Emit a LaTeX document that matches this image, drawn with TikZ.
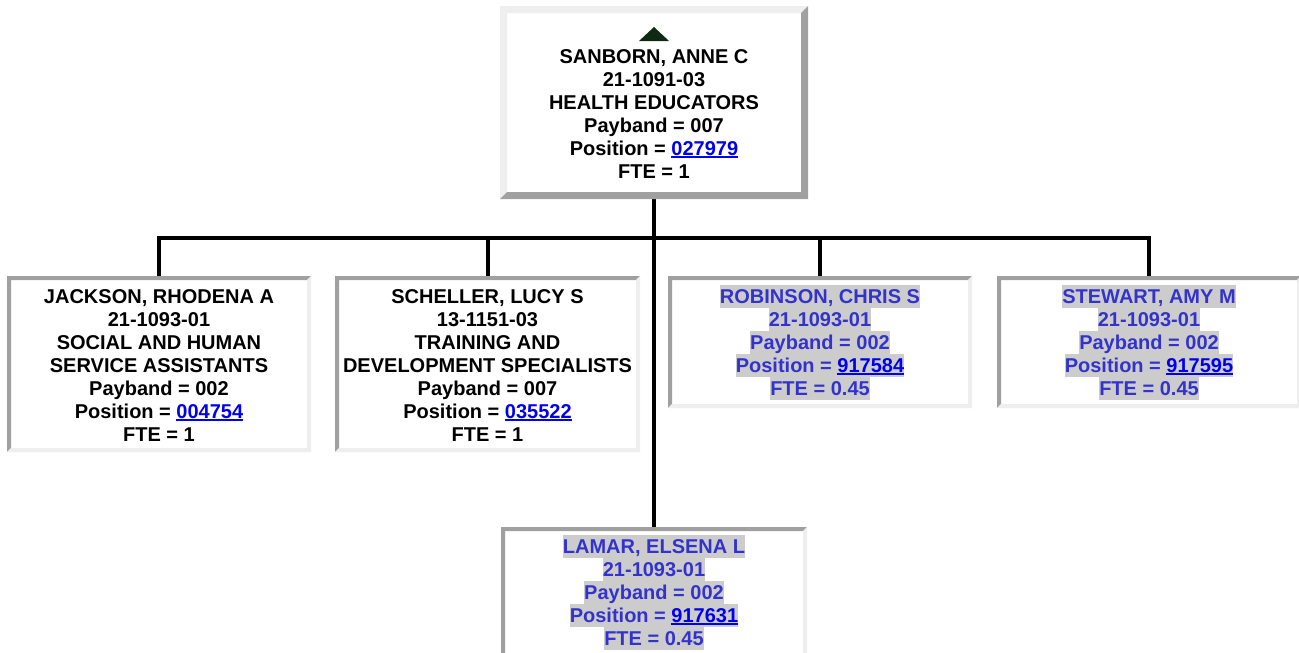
\documentclass[tikz,border=0pt]{standalone}
\usepackage{fontspec}
\setmainfont{Liberation Sans}
\definecolor{lightb}{HTML}{EEEEEE}
\definecolor{darkb}{HTML}{A0A0A0}
\definecolor{hlgray}{HTML}{CCCCCC}
\definecolor{hltext}{HTML}{3333CC}
\definecolor{linkblue}{HTML}{0000EE}
\definecolor{tricol}{HTML}{0E2A12}
\newcommand\mystrut{\rule[-4.5pt]{0pt}{23pt}}
\newcommand\rowp[1]{\mystrut#1}
\newcommand\rowh[1]{{\setlength{\fboxsep}{0pt}\colorbox{hlgray}{\mystrut#1}}}
\newcommand\lnk[1]{{\color{linkblue}\setbox0\hbox{#1}\rlap{\rule[-3pt]{\wd0}{2pt}}\box0}}
\newcommand\bevel[4]{%
  \fill[#3] (#1.south west) -- (#1.north west) -- (#1.north east)
    -- ([xshift=-#2,yshift=-#2]#1.north east) -- ([xshift=#2,yshift=-#2]#1.north west)
    -- ([xshift=#2,yshift=#2]#1.south west) -- cycle;
  \fill[#4] (#1.north east) -- (#1.south east) -- (#1.south west)
    -- ([xshift=#2,yshift=#2]#1.south west) -- ([xshift=-#2,yshift=#2]#1.south east)
    -- ([xshift=-#2,yshift=-#2]#1.north east) -- cycle;}
\tikzset{
  box/.style={rectangle, fill=white, draw=none, inner sep=0pt, outer sep=0pt},
  txt/.style={font=\fontsize{20pt}{23pt}\selectfont\bfseries, align=center, inner sep=0pt, anchor=north},
  hltxt/.style={txt, text=hltext},
  conn/.style={draw=black, line width=4pt, line join=miter}
}
\begin{document}
\begin{tikzpicture}[x=1pt,y=-1pt]
\useasboundingbox (0,0) rectangle (1299,653);
\clip (0,0) rectangle (1299,653);
\fill[white] (0,0) rectangle (1299,653);

% box frames
\node[box, minimum width=308pt, minimum height=193pt] (sanborn) at (654,102.5) {};
\node[box, minimum width=304pt, minimum height=176pt] (jackson) at (159,364) {};
\node[box, minimum width=305pt, minimum height=176pt] (scheller) at (487.5,364) {};
\node[box, minimum width=304pt, minimum height=132pt] (robinson) at (820,342) {};
\node[box, minimum width=304pt, minimum height=132pt] (stewart) at (1149,342) {};
\node[box, minimum width=306pt, minimum height=190pt] (lamar) at (654,622) {};

% connectors
\coordinate (bus) at (654,238);
\draw[conn] (jackson.north) -- (jackson.north |- bus) -- (stewart.north |- bus) -- (stewart.north);
\draw[conn] (scheller.north) -- (scheller.north |- bus);
\draw[conn] (robinson.north) -- (robinson.north |- bus);
\draw[conn] (sanborn.south) -- (lamar.north);

% borders
\bevel{sanborn}{7pt}{lightb}{darkb}
\bevel{jackson}{4pt}{darkb}{lightb}
\bevel{scheller}{4pt}{darkb}{lightb}
\bevel{robinson}{4pt}{darkb}{lightb}
\bevel{stewart}{4pt}{darkb}{lightb}
\bevel{lamar}{4pt}{darkb}{lightb}

% up arrow in top box
\fill[tricol] (639,41) -- (654,27) -- (669,41) -- cycle;

% texts
\node[txt] (sanborn-t) at ([yshift=-38.5pt]sanborn.north) {\rowp{SANBORN, ANNE C}\\ \rowp{21-1091-03}\\ \rowp{HEALTH EDUCATORS}\\ \rowp{Payband = 007}\\ \rowp{Position = \lnk{027979}}\\ \rowp{FTE = 1}};
\node[txt] (jackson-t) at ([yshift=-8.5pt]jackson.north) {\rowp{JACKSON, RHODENA A}\\ \rowp{21-1093-01}\\ \rowp{SOCIAL AND HUMAN}\\ \rowp{SERVICE ASSISTANTS}\\ \rowp{Payband = 002}\\ \rowp{Position = \lnk{004754}}\\ \rowp{FTE = 1}};
\node[txt] (scheller-t) at ([yshift=-8.5pt]scheller.north) {\rowp{SCHELLER, LUCY S}\\ \rowp{13-1151-03}\\ \rowp{TRAINING AND}\\ \rowp{DEVELOPMENT SPECIALISTS}\\ \rowp{Payband = 007}\\ \rowp{Position = \lnk{035522}}\\ \rowp{FTE = 1}};
\node[hltxt] (robinson-t) at ([yshift=-8.5pt]robinson.north) {\rowh{ROBINSON, CHRIS S}\\ \rowh{21-1093-01}\\ \rowh{Payband = 002}\\ \rowh{Position = \lnk{917584}}\\ \rowh{FTE = 0.45}};
\node[hltxt] (stewart-t) at ([yshift=-8.5pt]stewart.north) {\rowh{STEWART, AMY M}\\ \rowh{21-1093-01}\\ \rowh{Payband = 002}\\ \rowh{Position = \lnk{917595}}\\ \rowh{FTE = 0.45}};
\node[hltxt] (lamar-t) at ([yshift=-7.5pt]lamar.north) {\rowh{LAMAR, ELSENA L}\\ \rowh{21-1093-01}\\ \rowh{Payband = 002}\\ \rowh{Position = \lnk{917631}}\\ \rowh{FTE = 0.45}};
\end{tikzpicture}
\end{document}
